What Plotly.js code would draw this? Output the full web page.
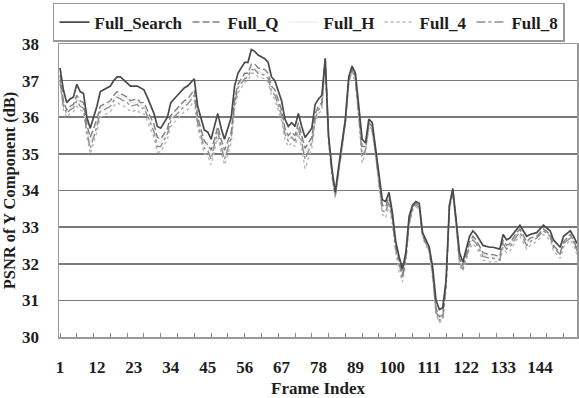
<!DOCTYPE html>
<html>
<head>
<meta charset="utf-8">
<script src="https://cdn.plot.ly/plotly-3.0.1.min.js"></script>
<style>html,body{margin:0;padding:0;background:#fff;}#chart{width:579px;height:398px;}</style>
</head>
<body>
<div id="chart"></div>
<script>
var frames = [
  1,2,3,4,5,6,7,8,9,10,
  12,13,14,16,17,18,19,21,22,24,
  25,26,27,29,30,31,33,34,36,37,
  38,39,41,42,44,45,46,47,48,49,
  50,52,53,54,56,57,58,59,60,62,
  63,64,65,67,68,69,70,71,72,73,
  74,76,77,78,79,80,81,82,83,84,
  86,87,88,89,90,91,92,93,94,95,
  97,98,99,100,101,102,103,104,105,106,
  107,108,109,111,112,113,114,115,116,117,
  118,119,120,121,123,124,125,127,129,130,
  132,133,134,135,137,138,140,141,143,144,
  145,147,148,150,151,153,154,155];

var fullSearch = [
  37.35,36.75,36.40,36.50,36.55,36.90,36.70,36.65,36.00,35.70,
  36.30,36.70,36.75,36.85,37.00,37.10,37.10,36.95,36.85,36.85,
  36.80,36.75,36.55,36.10,35.75,35.70,36.00,36.40,36.60,36.70,
  36.80,36.85,37.05,36.30,35.65,35.60,35.40,35.75,36.10,35.70,
  35.40,36.00,36.85,37.20,37.50,37.50,37.85,37.80,37.70,37.60,
  37.50,37.10,37.00,36.45,35.95,35.75,35.85,35.75,36.10,35.75,
  35.45,35.70,36.35,36.50,36.60,37.60,35.50,34.60,33.95,34.65,
  35.95,37.10,37.40,37.20,36.30,35.40,35.30,35.95,35.85,35.20,
  33.75,33.70,33.95,33.40,32.60,32.20,31.85,32.30,33.30,33.60,
  33.70,33.65,32.85,32.45,31.90,31.00,30.75,30.80,31.55,33.60,
  34.05,33.20,32.30,32.05,32.75,32.90,32.80,32.50,32.45,32.45,
  32.40,32.80,32.65,32.70,32.95,33.05,32.75,32.80,32.85,32.95,
  33.05,32.90,32.65,32.45,32.75,32.90,32.75,32.55];

var fullQ = [
  37.15,36.45,36.2,36.3,36.35,36.6,36.45,36.4,35.8,35.45,
  35.95,36.3,36.35,36.45,36.6,36.7,36.65,36.55,36.45,36.5,
  36.4,36.4,36.2,35.8,35.45,35.4,35.7,36.05,36.25,36.35,
  36.45,36.5,36.75,36.0,35.35,35.25,35.1,35.4,35.75,35.4,
  35.1,35.6,36.5,36.9,37.2,37.2,37.45,37.45,37.35,37.3,
  37.2,36.85,36.75,36.2,35.7,35.5,35.6,35.5,35.85,35.5,
  35.15,35.45,36.1,36.3,36.4,37.65,35.45,34.5,33.9,34.6,
  35.9,37.0,37.35,37.1,36.2,35.2,35.2,35.85,35.75,35.1,
  33.6,33.55,33.85,33.3,32.5,32.05,31.7,32.2,33.2,33.55,
  33.65,33.6,32.8,32.4,31.8,30.8,30.55,30.6,31.45,33.6,
  34.05,33.15,32.15,31.95,32.6,32.75,32.65,32.3,32.25,32.25,
  32.2,32.65,32.5,32.55,32.85,32.95,32.6,32.7,32.75,32.85,
  32.95,32.8,32.5,32.3,32.6,32.8,32.65,32.4];

var fullH = [
  37.05,36.4,36.15,36.25,36.3,36.5,36.4,36.3,35.7,35.3,
  35.85,36.2,36.3,36.4,36.5,36.6,36.6,36.5,36.4,36.4,
  36.35,36.3,36.1,35.7,35.3,35.3,35.6,35.95,36.2,36.3,
  36.4,36.4,36.65,35.9,35.25,35.2,34.95,35.3,35.65,35.3,
  34.95,35.5,36.4,36.85,37.1,37.15,37.35,37.35,37.25,37.2,
  37.1,36.75,36.65,36.1,35.6,35.4,35.5,35.4,35.75,35.4,
  35.0,35.35,36.0,36.25,36.35,37.6,35.4,34.5,33.85,34.55,
  35.85,37.0,37.3,37.1,36.15,35.05,35.15,35.8,35.7,35.05,
  33.5,33.45,33.75,33.25,32.45,32.0,31.65,32.15,33.15,33.5,
  33.6,33.55,32.75,32.35,31.75,30.75,30.5,30.55,31.4,33.55,
  33.95,33.1,32.1,31.9,32.55,32.7,32.6,32.25,32.2,32.2,
  32.15,32.6,32.45,32.5,32.8,32.9,32.55,32.65,32.7,32.8,
  32.9,32.75,32.45,32.25,32.55,32.75,32.6,32.35];

var full4 = [
  36.9,36.2,36.0,36.1,36.15,36.3,36.2,36.15,35.5,35.0,
  35.6,36.0,36.05,36.15,36.3,36.4,36.35,36.25,36.15,36.2,
  36.1,36.1,35.9,35.45,35.05,35.05,35.4,35.75,35.95,36.05,
  36.15,36.2,36.45,35.7,35.0,34.95,34.7,35.1,35.45,35.05,
  34.7,35.3,36.2,36.65,36.95,37.0,37.2,37.2,37.1,37.05,
  36.95,36.6,36.5,35.9,35.4,35.2,35.3,35.2,35.55,35.15,
  34.6,35.15,35.85,36.1,36.2,37.5,35.3,34.35,33.8,34.45,
  35.8,36.9,37.2,36.95,36.0,34.75,35.0,35.7,35.6,34.95,
  33.35,33.25,33.6,33.1,32.3,31.8,31.5,32.0,33.05,33.45,
  33.55,33.5,32.7,32.3,31.6,30.6,30.4,30.45,31.3,33.5,
  33.9,33.0,31.95,31.8,32.4,32.55,32.45,32.1,32.05,32.05,
  32.05,32.45,32.3,32.35,32.65,32.75,32.4,32.5,32.6,32.7,
  32.8,32.65,32.35,32.15,32.45,32.65,32.5,32.25];

var full8 = [
  37.0,36.3,36.1,36.2,36.25,36.45,36.3,36.25,35.6,35.15,
  35.75,36.15,36.2,36.3,36.45,36.55,36.5,36.4,36.3,36.35,
  36.25,36.25,36.05,35.6,35.2,35.2,35.55,35.9,36.1,36.2,
  36.3,36.35,36.6,35.85,35.15,35.1,34.85,35.25,35.6,35.2,
  34.85,35.45,36.35,36.8,37.05,37.1,37.3,37.3,37.2,37.15,
  37.05,36.7,36.6,36.05,35.55,35.35,35.45,35.35,35.7,35.3,
  34.85,35.3,35.95,36.2,36.3,37.55,35.4,34.45,33.85,34.5,
  35.85,36.95,37.3,37.05,36.1,34.95,35.1,35.8,35.65,35.0,
  33.45,33.4,33.7,33.2,32.4,31.95,31.6,32.1,33.1,33.5,
  33.6,33.55,32.75,32.35,31.7,30.7,30.45,30.5,31.4,33.55,
  33.95,33.1,32.05,31.85,32.5,32.65,32.55,32.2,32.15,32.15,
  32.1,32.55,32.4,32.45,32.75,32.85,32.5,32.6,32.7,32.8,
  32.9,32.75,32.45,32.25,32.55,32.7,32.6,32.35];

var seriesNames = ["Full_Search", "Full_Q", "Full_H", "Full_4", "Full_8"];
var xTickVals = [1, 12, 23, 34, 45, 56, 67, 78, 89, 100, 111, 122, 133, 144];
var yTickVals = [30, 31, 32, 33, 34, 35, 36, 37, 38];

var serif = "'Liberation Serif', 'Times New Roman', serif";
var txt = function (s) { return {family: serif, size: s, color: '#1e1e1e', weight: 'bold'}; };
var styles = [
  {color: '#4a4a4a', width: 1.7, dash: 'solid'},
  {color: '#808080', width: 1.4, dash: '7px,3px'},
  {color: '#ececec', width: 1.3, dash: 'solid'},
  {color: '#b8b8b8', width: 1.4, dash: '3px,3px'},
  {color: '#909090', width: 1.4, dash: 'dashdot'}
];
var values = [fullSearch, fullQ, fullH, full4, full8];

var traces = [];
// draw light lines first so darker ones sit on top
[2, 3, 4, 1, 0].forEach(function (i) {
  traces.push({
    type: 'scatter', mode: 'lines', name: seriesNames[i],
    x: frames, y: values[i], line: styles[i], legendrank: i + 1
  });
});

var layout = {
  width: 579, height: 398,
  margin: {l: 59, r: 2, t: 44, b: 61},
  paper_bgcolor: '#fff', plot_bgcolor: '#fff',
  font: txt(17),
  showlegend: true,
  legend: {
    orientation: 'h', x: -0.0116, xanchor: 'left', y: 1.14, yanchor: 'top',
    bordercolor: '#999', borderwidth: 1.5, bgcolor: '#fff',
    font: txt(17), traceorder: 'normal', itemwidth: 30
  },
  xaxis: {
    range: [0.7, 155], tickvals: xTickVals, ticktext: xTickVals.map(String),
    ticks: '', showgrid: false, zeroline: false,
    showline: true, linecolor: '#999', linewidth: 1.5, mirror: true,
    ticklabelstandoff: 14, tickfont: txt(17),
    minor: {ticks: 'inside', ticklen: 4, tickcolor: '#888', tick0: 1, dtick: 5, showgrid: false},
    title: {text: 'Frame Index', font: txt(17), standoff: 8}
  },
  yaxis: {
    range: [30, 38], tickvals: yTickVals, ticks: '',
    showgrid: true, gridcolor: '#7a7a7a', gridwidth: 1.6, zeroline: false,
    showline: true, linecolor: '#999', linewidth: 1.5, mirror: true,
    ticklabelstandoff: 15, tickfont: txt(17),
    title: {text: 'PSNR of Y Component (dB)', font: txt(16.5), standoff: 6}
  }
};

Plotly.newPlot('chart', traces, layout, {displayModeBar: false, staticPlot: true});
</script>
</body>
</html>
